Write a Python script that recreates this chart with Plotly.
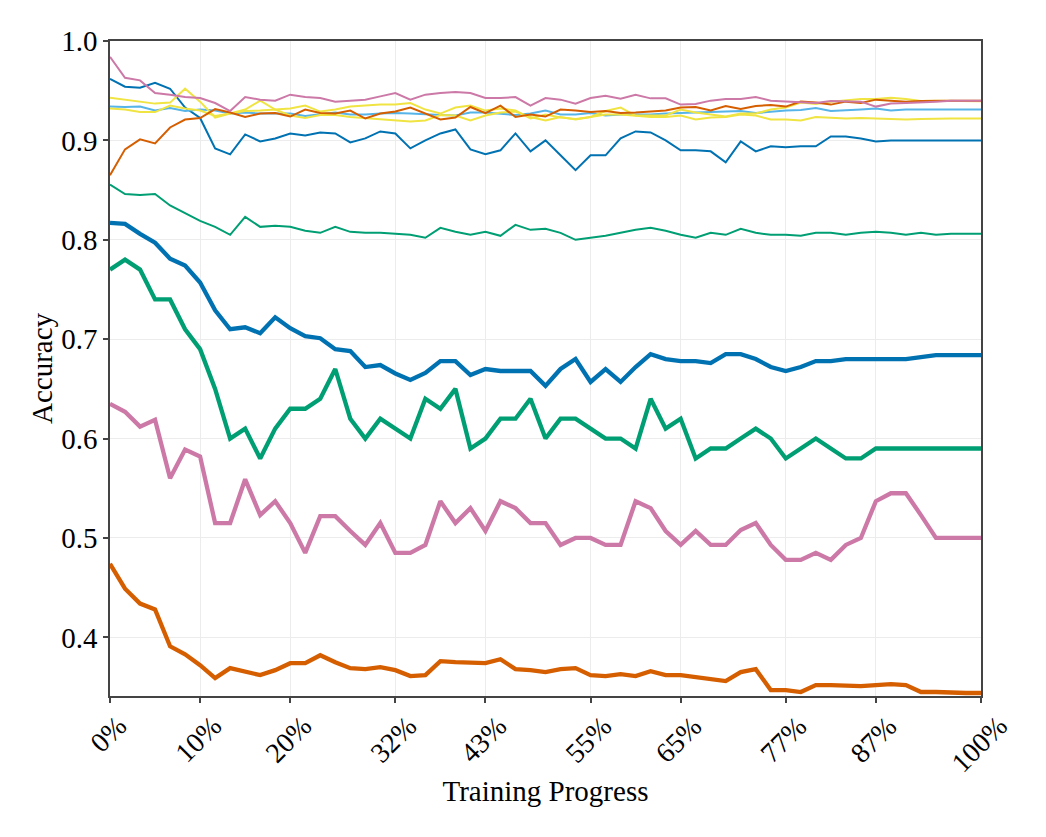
import plotly.graph_objects as go

n_points = 59
steps = list(range(n_points))
tick_idx = [0, 6, 12, 19, 25, 32, 38, 45, 51, 58]
tick_labels = ["0%", "10%", "20%", "32%", "43%", "55%", "65%", "77%", "87%", "100%"]

thin_blue = [0.962, 0.954, 0.953, 0.958, 0.952, 0.933, 0.9225, 0.892, 0.886, 0.906,
             0.899, 0.902, 0.907, 0.905, 0.908, 0.907, 0.898, 0.902, 0.909, 0.907,
             0.892, 0.900, 0.907, 0.911, 0.891, 0.886, 0.890, 0.907, 0.889, 0.900,
             0.885, 0.870, 0.885, 0.885, 0.902, 0.909, 0.908, 0.900, 0.890, 0.890,
             0.889, 0.878, 0.899, 0.889, 0.894, 0.893, 0.894, 0.894, 0.904, 0.904,
             0.902, 0.899, 0.900, 0.900, 0.900, 0.900, 0.900, 0.900, 0.900]
thin_orange = [0.865, 0.891, 0.901, 0.897, 0.913, 0.921, 0.9225, 0.9315, 0.928, 0.9235,
               0.927, 0.9275, 0.924, 0.931, 0.9275, 0.927, 0.930, 0.922, 0.927, 0.929,
               0.933, 0.927, 0.921, 0.923, 0.9336, 0.9275, 0.935, 0.9235, 0.926, 0.924,
               0.931, 0.930, 0.9285, 0.9295, 0.9275, 0.928, 0.929, 0.930, 0.933, 0.9336,
               0.930, 0.9346, 0.9315, 0.9346, 0.9356, 0.934, 0.939, 0.938, 0.936, 0.939,
               0.9376, 0.941, 0.940, 0.939, 0.9396, 0.940, 0.940, 0.940, 0.940]
thin_pink = [0.984, 0.963, 0.9604, 0.9477, 0.946, 0.9436, 0.9426, 0.9376, 0.9295, 0.9436,
             0.941, 0.940, 0.946, 0.9436, 0.9426, 0.939, 0.940, 0.941, 0.9443, 0.9477,
             0.941, 0.946, 0.9477, 0.9487, 0.9477, 0.9426, 0.9426, 0.9436, 0.935, 0.9426,
             0.941, 0.937, 0.9426, 0.945, 0.942, 0.946, 0.9423, 0.9423, 0.936, 0.9366,
             0.940, 0.9416, 0.9416, 0.9436, 0.940, 0.939, 0.9386, 0.9376, 0.9396, 0.939,
             0.939, 0.934, 0.937, 0.9376, 0.938, 0.939, 0.940, 0.940, 0.940]
thin_skyblue = [0.934, 0.9336, 0.934, 0.930, 0.9325, 0.9295, 0.931, 0.930, 0.927, 0.928,
                0.927, 0.927, 0.927, 0.9245, 0.926, 0.928, 0.926, 0.926, 0.927, 0.9275,
                0.927, 0.926, 0.9255, 0.925, 0.928, 0.928, 0.927, 0.9255, 0.927, 0.930,
                0.926, 0.926, 0.9275, 0.925, 0.926, 0.926, 0.926, 0.927, 0.9275, 0.928,
                0.9285, 0.929, 0.9295, 0.9275, 0.929, 0.930, 0.9305, 0.9325, 0.9295, 0.930,
                0.931, 0.932, 0.930, 0.931, 0.931, 0.931, 0.931, 0.931, 0.931]
thin_yellow_a = [0.943, 0.941, 0.939, 0.937, 0.938, 0.952, 0.939, 0.923, 0.927, 0.931,
                 0.940, 0.931, 0.932, 0.935, 0.929, 0.931, 0.934, 0.935, 0.936, 0.936,
                 0.9376, 0.931, 0.927, 0.933, 0.935, 0.930, 0.932, 0.930, 0.922, 0.926,
                 0.923, 0.9215, 0.9235, 0.9295, 0.933, 0.925, 0.925, 0.925, 0.931, 0.928,
                 0.926, 0.924, 0.927, 0.927, 0.931, 0.933, 0.938, 0.9366, 0.939, 0.940,
                 0.9416, 0.9416, 0.943, 0.9416, 0.9396, 0.940, 0.9396, 0.9393, 0.9393]
thin_yellow_b = [0.932, 0.931, 0.9285, 0.9285, 0.935, 0.932, 0.930, 0.9245, 0.927, 0.9295,
                 0.930, 0.931, 0.925, 0.9225, 0.9255, 0.9255, 0.9235, 0.9225, 0.921, 0.920,
                 0.919, 0.920, 0.9255, 0.925, 0.920, 0.925, 0.928, 0.929, 0.9235, 0.920,
                 0.9235, 0.921, 0.9235, 0.926, 0.926, 0.925, 0.9235, 0.9235, 0.925, 0.921,
                 0.923, 0.9235, 0.926, 0.925, 0.921, 0.921, 0.920, 0.9235, 0.923, 0.922,
                 0.9225, 0.922, 0.922, 0.921, 0.9215, 0.922, 0.922, 0.922, 0.922]
thin_green = [0.8556, 0.846, 0.845, 0.846, 0.8345, 0.827, 0.819, 0.813, 0.805, 0.823,
              0.813, 0.814, 0.813, 0.809, 0.807, 0.813, 0.808, 0.807, 0.807, 0.806,
              0.805, 0.802, 0.812, 0.808, 0.805, 0.808, 0.804, 0.815, 0.810, 0.811,
              0.807, 0.800, 0.802, 0.804, 0.807, 0.810, 0.812, 0.809, 0.805, 0.802,
              0.807, 0.805, 0.811, 0.807, 0.805, 0.805, 0.804, 0.807, 0.807, 0.805,
              0.807, 0.808, 0.807, 0.805, 0.807, 0.805, 0.806, 0.806, 0.806]

thick_blue = [0.817, 0.816, 0.806, 0.797, 0.781, 0.774, 0.757, 0.729, 0.710, 0.712,
              0.706, 0.722, 0.711, 0.703, 0.701, 0.690, 0.688, 0.672, 0.674, 0.6655,
              0.659, 0.666, 0.678, 0.678, 0.664, 0.670, 0.668, 0.668, 0.668, 0.653,
              0.670, 0.680, 0.657, 0.670, 0.657, 0.672, 0.685, 0.680, 0.678, 0.678,
              0.676, 0.685, 0.685, 0.680, 0.672, 0.668, 0.672, 0.678, 0.678, 0.680,
              0.680, 0.680, 0.680, 0.680, 0.682, 0.684, 0.684, 0.684, 0.684]
thick_green = [0.77, 0.78, 0.77, 0.74, 0.74, 0.71, 0.69, 0.65, 0.60, 0.61,
               0.58, 0.61, 0.63, 0.63, 0.64, 0.67, 0.62, 0.60, 0.62, 0.61,
               0.60, 0.64, 0.63, 0.65, 0.59, 0.60, 0.62, 0.62, 0.64, 0.60,
               0.62, 0.62, 0.61, 0.60, 0.60, 0.59, 0.64, 0.61, 0.62, 0.58,
               0.59, 0.59, 0.60, 0.61, 0.60, 0.58, 0.59, 0.60, 0.59, 0.58,
               0.58, 0.59, 0.59, 0.59, 0.59, 0.59, 0.59, 0.59, 0.59]
thick_pink = [0.635, 0.627, 0.612, 0.619, 0.560, 0.589, 0.582, 0.515, 0.515, 0.559,
              0.523, 0.537, 0.515, 0.485, 0.522, 0.522, 0.507, 0.493, 0.515, 0.485,
              0.485, 0.493, 0.537, 0.515, 0.530, 0.507, 0.537, 0.530, 0.515, 0.515,
              0.493, 0.500, 0.500, 0.493, 0.493, 0.537, 0.530, 0.507, 0.493, 0.507,
              0.493, 0.493, 0.508, 0.515, 0.493, 0.478, 0.478, 0.485, 0.478, 0.493,
              0.500, 0.537, 0.545, 0.545, 0.523, 0.500, 0.500, 0.500, 0.500]
thick_orange = [0.474, 0.449, 0.434, 0.428, 0.391, 0.383, 0.372, 0.359, 0.369, 0.366,
                0.362, 0.367, 0.374, 0.374, 0.382, 0.375, 0.369, 0.368, 0.370, 0.367,
                0.361, 0.362, 0.376, 0.375, 0.375, 0.374, 0.378, 0.368, 0.367, 0.365,
                0.368, 0.369, 0.362, 0.361, 0.363, 0.361, 0.366, 0.362, 0.362, 0.360,
                0.359, 0.356, 0.365, 0.368, 0.347, 0.347, 0.345, 0.352, 0.352, 0.351,
                0.351, 0.352, 0.353, 0.352, 0.345, 0.345, 0.344, 0.344, 0.344]

BLUE = "#0072B2"
GREEN = "#009E73"
ORANGE = "#D55E00"
PINK = "#CC79A7"
SKY = "#56B4E9"
YELLOW = "#F0E442"

thin_series = [
    (thin_green, GREEN),
    (thin_blue, BLUE),
    (thin_skyblue, SKY),
    (thin_yellow_b, YELLOW),
    (thin_yellow_a, YELLOW),
    (thin_orange, ORANGE),
    (thin_pink, PINK),
]
thick_series = [
    (thick_blue, BLUE),
    (thick_green, GREEN),
    (thick_pink, PINK),
    (thick_orange, ORANGE),
]

fig = go.Figure()
for vals, col in thin_series:
    fig.add_trace(go.Scatter(x=steps, y=vals, mode="lines",
                             line=dict(color=col, width=2), showlegend=False))
for vals, col in thick_series:
    fig.add_trace(go.Scatter(x=steps, y=vals, mode="lines",
                             line=dict(color=col, width=4.3), showlegend=False))

FONT = "Liberation Serif, Times New Roman, serif"
XTICK_SIZE = 28
YTICK_SIZE = 29

# rotated x tick labels centred under their ticks (matplotlib style)
for t, lab in zip(tick_idx, tick_labels):
    fig.add_annotation(x=t, xref="x", y=0, yref="paper",
                       text=lab, showarrow=False, textangle=-45,
                       xanchor="center", yanchor="top", yshift=-12, xshift=-2,
                       font=dict(size=XTICK_SIZE, family=FONT, color="black"))

fig.update_layout(
    width=1038, height=829,
    margin=dict(l=102, r=65, t=33, b=141),
    paper_bgcolor="white", plot_bgcolor="white",
    font=dict(family=FONT, size=28, color="black"),
    showlegend=False,
)
fig.update_xaxes(
    range=[0, n_points - 1],
    tickmode="array", tickvals=tick_idx, ticktext=tick_labels,
    showticklabels=False,
    ticks="outside", ticklen=5, tickcolor="#444", tickwidth=1.5,
    showline=True, linecolor="#444", linewidth=1.5, mirror=True,
    showgrid=True, gridcolor="#ececec", gridwidth=1, zeroline=False,
    title=dict(text="Training Progress", font=dict(size=29, family=FONT), standoff=79),
)
fig.update_yaxes(
    range=[0.341, 1.0], dtick=0.1, tick0=0.4, tickformat=".1f",
    tickfont=dict(size=YTICK_SIZE, family=FONT),
    ticks="outside", ticklen=5, tickcolor="#444", tickwidth=1.5,
    showline=True, linecolor="#444", linewidth=1.5, mirror=True,
    showgrid=True, gridcolor="#ececec", gridwidth=1, zeroline=False,
    title=dict(text="Accuracy", font=dict(size=29, family=FONT), standoff=0),
)
fig.write_html("out.html")
